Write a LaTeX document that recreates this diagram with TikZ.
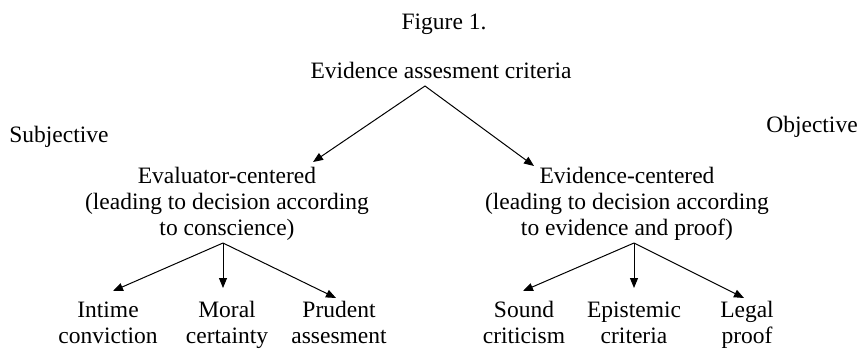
\documentclass[tikz,border=0pt]{standalone}
\usepackage{fontspec}
\setmainfont{Liberation Serif}
\usetikzlibrary{arrows.meta}
\begin{document}
\begin{tikzpicture}[x=1pt,y=-1pt,
  lbl/.style={inner sep=0pt,align=center,anchor=base,font=\fontsize{23.5}{26}\selectfont},
  arr/.style={-{Triangle[length=10pt,width=8pt]},line width=1pt}]
\useasboundingbox (0,0) rectangle (863,349);
\node[lbl] (fig) at (444,29) {Figure 1.};
\node[lbl] (root) at (441,78) {Evidence assesment criteria};
\node[lbl] (subj) at (59,142) {Subjective};
\node[lbl] (obj) at (812,132) {Objective};
% multi-line nodes: base = baseline of last line
\node[lbl] (evalc) at (227,235) {Evaluator-centered\\(leading to decision according\\to conscience)};
\node[lbl] (evidc) at (627,235) {Evidence-centered\\(leading to decision according\\to evidence and proof)};
\node[lbl] (l1) at (108,343) {Intime\\conviction};
\node[lbl] (l2) at (227,343) {Moral\\certainty};
\node[lbl] (l3) at (339,343) {Prudent\\assesment};
\node[lbl] (r1) at (524,343) {Sound\\criticism};
\node[lbl] (r2) at (634,343) {Epistemic\\criteria};
\node[lbl] (r3) at (747,343) {Legal\\proof};
% arrow endpoints
\coordinate (rootS) at (425,86);
\coordinate (evalcN) at (313,162);
\coordinate (evidcN) at (534,166);
\coordinate (evalcS) at (223,243);
\coordinate (evidcS) at (634,243);
\coordinate (l1N) at (113,291);
\coordinate (l2N) at (223,288);
\coordinate (l3N) at (336,298);
\coordinate (r1N) at (523,291);
\coordinate (r2N) at (634,288);
\coordinate (r3N) at (744,298);
\draw[arr] (rootS) -- (evalcN);
\draw[arr] (rootS) -- (evidcN);
\draw[arr] (evalcS) -- (l1N);
\draw[arr] (evalcS) -- (l2N);
\draw[arr] (evalcS) -- (l3N);
\draw[arr] (evidcS) -- (r1N);
\draw[arr] (evidcS) -- (r2N);
\draw[arr] (evidcS) -- (r3N);
\end{tikzpicture}
\end{document}
